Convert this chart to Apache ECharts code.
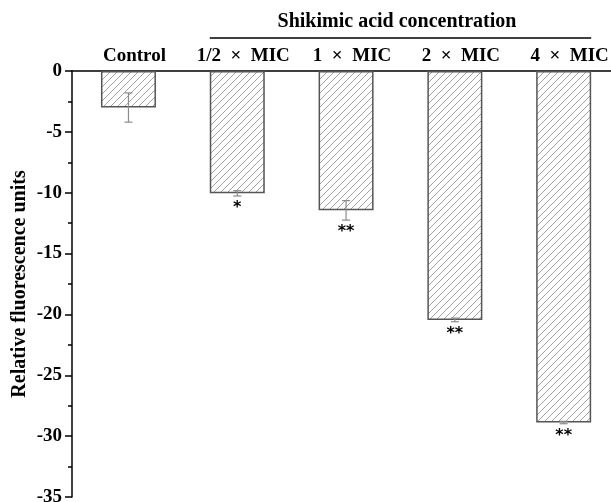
<!DOCTYPE html>
<html><head><meta charset="utf-8">
<script src="https://cdn.jsdelivr.net/npm/echarts@6/dist/echarts.min.js"></script>
<style>html,body{margin:0;padding:0;background:#fff}#c{width:611px;height:502px}</style>
</head><body><div id="c"></div>
<script>
var categories = ['Control', '1/2  \u00d7  MIC', '1  \u00d7  MIC', '2  \u00d7  MIC', '4  \u00d7  MIC'];
var values = [-3.0, -10.05, -11.45, -20.45, -28.88];
var errors = [1.2, 0.22, 0.8, 0.15, 0.1];
var stars = ['', '*', '**', '**', '**'];
var yTicks = [0, -5, -10, -15, -20, -25, -30, -35];
var groupTitle = 'Shikimic acid concentration';
var yTitle = 'Relative fluorescence units';

var pc = document.createElement('canvas');
pc.width = 7; pc.height = 7;
var g = pc.getContext('2d');
g.fillStyle = '#fff'; g.fillRect(0,0,7,7);
g.strokeStyle = '#8a8a8a'; g.lineWidth = 0.8;
g.beginPath();
g.moveTo(0,7); g.lineTo(7,0);
g.moveTo(-1,1); g.lineTo(1,-1);
g.moveTo(6,8); g.lineTo(8,6);
g.stroke();

var serif = 'Liberation Serif';
var pos = categories.map(function(_, i){ return i + 1; });
var labelPos = pos.map(function(p){ return p + 0.055; });
var chart = echarts.init(document.getElementById('c'));
var option = {
  animation: false,
  backgroundColor: '#fff',
  grid: { left: 72, right: 0, top: 71, bottom: 5, containLabel: false, outerBoundsMode: 'none' },
  title: {
    text: groupTitle, left: 392, top: 7, textAlign: 'center',
    textStyle: { fontFamily: serif, fontWeight: 'bold', fontSize: 20, color: '#000' }
  },
  xAxis: {
    type: 'value', position: 'top', min: 0.481, max: 5.435,
    splitLine: { show: false },
    axisLine: { show: true, onZero: false, lineStyle: { color: '#000', width: 1.5 } },
    axisTick: { show: true, inside: true, length: 5, customValues: pos, lineStyle: { color: '#000', width: 1.2 } },
    axisLabel: {
      customValues: labelPos, margin: 5, hideOverlap: false, showMaxLabel: true, showMinLabel: true,
      formatter: function(v){ return categories[Math.round(v) - 1] || ''; },
      fontFamily: serif, fontWeight: 'bold', fontSize: 19, color: '#000'
    }
  },
  yAxis: {
    type: 'value', min: -35, max: 0, interval: 5,
    name: yTitle, nameLocation: 'middle', nameGap: 42, nameRotate: 90, nameMoveOverlap: false,
    nameTextStyle: { fontFamily: serif, fontWeight: 'bold', fontSize: 20, color: '#000' },
    splitLine: { show: false },
    axisLine: { show: true, lineStyle: { color: '#000', width: 1.5 } },
    axisTick: { show: true, length: 7, lineStyle: { color: '#000', width: 1.5 } },
    minorTick: { show: true, splitNumber: 2, length: 4, lineStyle: { color: '#000', width: 1.5 } },
    axisLabel: { margin: 10, fontFamily: serif, fontWeight: 'bold', fontSize: 19, color: '#000',
      formatter: function(v){ return yTicks.indexOf(v) >= 0 ? String(v) : ''; } }
  },
  series: [
    {
      type: 'bar', barWidth: 55,
      data: values.map(function(v, i){ return [pos[i], v]; }),
      itemStyle: { color: { image: pc, repetition: 'repeat' }, borderColor: '#555', borderWidth: 1.5 },
      z: 2
    },
    {
      type: 'custom', z: 3,
      data: values.map(function(v, i){ return [pos[i], v, errors[i]]; }),
      renderItem: function(params, api){
        var x = api.value(0), m = api.value(1), e = api.value(2);
        var top = api.coord([x, m + e]), bot = api.coord([x, m - e]);
        var cap = 4;
        var st = { stroke: '#8c8c8c', lineWidth: 1.2 };
        return { type: 'group', children: [
          { type: 'line', shape: { x1: top[0], y1: top[1], x2: bot[0], y2: bot[1] }, style: st },
          { type: 'line', shape: { x1: top[0]-cap, y1: top[1], x2: top[0]+cap, y2: top[1] }, style: st },
          { type: 'line', shape: { x1: bot[0]-cap, y1: bot[1], x2: bot[0]+cap, y2: bot[1] }, style: st },
          { type: 'text', style: { text: stars[params.dataIndex], x: bot[0], y: bot[1] + 4, align: 'center', verticalAlign: 'top',
              font: 'bold 16px "DejaVu Sans"', fill: '#000' } }
        ]};
      }
    }
  ]
};
chart.setOption(option);
var a = chart.convertToPixel({ gridIndex: 0 }, [pos[1] - 0.253, 0]);
var b = chart.convertToPixel({ gridIndex: 0 }, [pos[4] + 0.253, 0]);
chart.setOption({ graphic: [{ type: 'line', shape: { x1: a[0], y1: 38, x2: b[0], y2: 38 }, style: { stroke: '#000', lineWidth: 1.5 } }] });
</script></body></html>
